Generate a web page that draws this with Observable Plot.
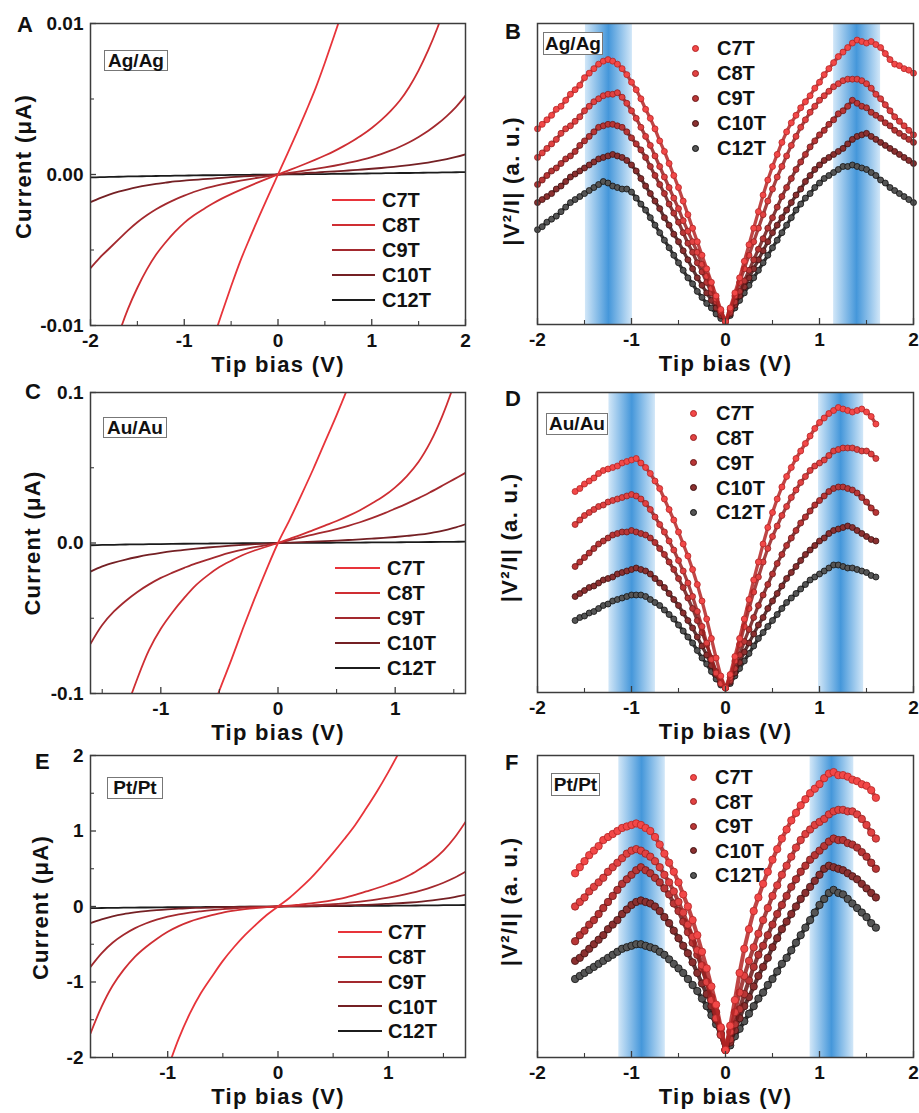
<!DOCTYPE html>
<html><head><meta charset="utf-8">
<script src="https://cdn.jsdelivr.net/npm/d3@7"></script>
<script src="https://cdn.jsdelivr.net/npm/@observablehq/plot@0.6"></script>
<style>
body{margin:0;background:#fff}
#root{position:relative;width:919px;height:1113px;overflow:hidden;font-family:"Liberation Sans",Arial,Helvetica,sans-serif;font-weight:bold;color:#111;background:#fff}
.panel{position:absolute}
.abs{position:absolute;white-space:nowrap;line-height:1}
.box{position:absolute;border:1.3px solid #777;box-sizing:border-box;text-align:center;font-size:19px;background:#fff}
</style></head>
<body>
<svg width="0" height="0" style="position:absolute"><defs>
<linearGradient id="band" x1="0" x2="1" y1="0" y2="0">
<stop offset="0" stop-color="#d2e7f8"/><stop offset="0.5" stop-color="#4597da"/><stop offset="1" stop-color="#d2e7f8"/>
</linearGradient></defs></svg>
<div id="root"></div>
<script>
// ---------- categories ----------
const series = ["C7T","C8T","C9T","C10T","C12T"];
const lineColors = ["#e8343a","#cf2e33","#a3292e","#742024","#1c1c1c"];
const dotFill = ["#f24848","#e04242","#b83636","#8a3030","#555555"];
const dotStroke = ["#b42424","#962020","#6c1818","#401010","#111111"];

// ---------- tick labels ----------
const xMajor4 = [-2,-1,0,1,2], xLabels4 = ["-2","-1","0","1","2"];
const xMajor3 = [-1,0,1], xLabels3 = ["-1","0","1"];
const xMinor = [-1.5,-0.5,0.5,1.5];
const yTicksA = [-0.01,0,0.01], yLabelsA = ["-0.01","0.00","0.01"], yMinorA = [-0.005,0.005];
const yTicksC = [-0.1,0,0.1], yLabelsC = ["-0.1","0.0","0.1"], yMinorC = [-0.05,0.05];
const yTicksE = [-2,-1,0,1,2], yLabelsE = ["-2","-1","0","1","2"], yMinorE = [-1.5,-0.5,0.5,1.5];

// ---------- bias grids ----------
const biasA = [-2,-1.9,-1.8,-1.7,-1.6,-1.5,-1.4,-1.3,-1.2,-1.1,-1,-0.9,-0.8,-0.7,-0.6,-0.5,-0.4,-0.3,-0.2,-0.1,0,0.1,0.2,0.3,0.4,0.5,0.6,0.7,0.8,0.9,1,1.1,1.2,1.3,1.4,1.5,1.6,1.7,1.8,1.9,2];
const biasC = [-1.6,-1.5,-1.4,-1.3,-1.2,-1.1,-1,-0.9,-0.8,-0.7,-0.6,-0.5,-0.4,-0.3,-0.2,-0.1,0,0.1,0.2,0.3,0.4,0.5,0.6,0.7,0.8,0.9,1,1.1,1.2,1.3,1.4,1.5,1.6];
const biasE = [-1.7,-1.6,-1.5,-1.4,-1.3,-1.2,-1.1,-1,-0.9,-0.8,-0.7,-0.6,-0.5,-0.4,-0.3,-0.2,-0.1,0,0.1,0.2,0.3,0.4,0.5,0.6,0.7,0.8,0.9,1,1.1,1.2,1.3,1.4,1.5,1.6,1.7];
const biasB = [-2,-1.95,-1.9,-1.85,-1.8,-1.75,-1.7,-1.65,-1.6,-1.55,-1.5,-1.45,-1.4,-1.35,-1.3,-1.25,-1.2,-1.15,-1.1,-1.05,-1,-0.95,-0.9,-0.85,-0.8,-0.75,-0.7,-0.65,-0.6,-0.55,-0.5,-0.45,-0.4,-0.35,-0.3,-0.25,-0.2,-0.15,-0.1,-0.05,0,0.05,0.1,0.15,0.2,0.25,0.3,0.35,0.4,0.45,0.5,0.55,0.6,0.65,0.7,0.75,0.8,0.85,0.9,0.95,1,1.05,1.1,1.15,1.2,1.25,1.3,1.35,1.4,1.45,1.5,1.55,1.6,1.65,1.7,1.75,1.8,1.85,1.9,1.95,2];
const biasDF = [-1.6,-1.55,-1.5,-1.45,-1.4,-1.35,-1.3,-1.25,-1.2,-1.15,-1.1,-1.05,-1,-0.95,-0.9,-0.85,-0.8,-0.75,-0.7,-0.65,-0.6,-0.55,-0.5,-0.45,-0.4,-0.35,-0.3,-0.25,-0.2,-0.15,-0.1,-0.05,0,0.05,0.1,0.15,0.2,0.25,0.3,0.35,0.4,0.45,0.5,0.55,0.6,0.65,0.7,0.75,0.8,0.85,0.9,0.95,1,1.05,1.1,1.15,1.2,1.25,1.3,1.35,1.4,1.45,1.5,1.55,1.6];

// ---------- A: Ag/Ag current (uA) ----------
const ivAg7 = [null,null,null,null,null,null,null,null,null,null,null,null,-0.0132,-0.0111,-0.0092,-0.0074,-0.0057,-0.0042,-0.00275,-0.00136,0,0.00136,0.00275,0.0042,0.0057,0.0074,0.0092,0.0111,0.0132,null,null,null,null,null,null,null,null,null,null,null,null];
const ivAg8 = [-0.0178,-0.015,-0.0126,-0.0106,-0.0089,-0.0075,-0.0063,-0.0053,-0.0045,-0.0038,-0.0032,-0.00272,-0.00232,-0.00194,-0.0016,-0.0013,-0.00102,-0.00075,-0.00049,-0.00024,0,0.00024,0.00048,0.00073,0.00099,0.00126,0.00155,0.00188,0.00224,0.00263,0.00308,0.0036,0.0042,0.0049,0.0058,0.0069,0.0082,0.0097,0.0115,0.0136,0.016];
const ivAg9 = [-0.0062,-0.0055,-0.0049,-0.0043,-0.0037,-0.00316,-0.0027,-0.0023,-0.00196,-0.00166,-0.0014,-0.00116,-0.00096,-0.0008,-0.00066,-0.00053,-0.00041,-0.0003,-0.0002,-0.0001,0,0.00009,0.00018,0.00027,0.00037,0.00047,0.00058,0.0007,0.00083,0.00098,0.00115,0.00135,0.00158,0.00184,0.00214,0.00249,0.00288,0.00334,0.00387,0.00448,0.00522];
const ivAg10 = [-0.00183,-0.00156,-0.00133,-0.00114,-0.00098,-0.00084,-0.00072,-0.00062,-0.00054,-0.00046,-0.0004,-0.00036,-0.00031,-0.00027,-0.00022,-0.00018,-0.00014,-0.0001,-0.00007,-0.00003,0,0.00003,0.00006,0.0001,0.00013,0.00017,0.0002,0.00024,0.00029,0.00033,0.00038,0.00043,0.00049,0.00055,0.00062,0.0007,0.00079,0.0009,0.00102,0.00116,0.00133];
const ivAg12 = [-0.00019,-0.00018,-0.00016,-0.00015,-0.00013,-0.00012,-0.00011,-0.0001,-0.00009,-0.00008,-0.00007,-0.00006,-0.00005,-0.00005,-0.00004,-0.00003,-0.00003,-0.00002,-0.00001,-0.00001,0,0.00001,0.00001,0.00002,0.00003,0.00003,0.00004,0.00005,0.00005,0.00006,0.00007,0.00008,0.00009,0.0001,0.0001,0.00011,0.00012,0.00013,0.00014,0.00015,0.00016];

// ---------- C: Au/Au current (uA) ----------
const ivAu7 = [null,null,null,null,null,null,null,null,null,-0.143,-0.12,-0.098,-0.078,-0.057,-0.037,-0.018,0,0.0155,0.032,0.049,0.067,0.085,0.104,0.124,0.146,null,null,null,null,null,null,null,null];
const ivAu8 = [-0.205,-0.17,-0.14,-0.112,-0.09,-0.071,-0.057,-0.046,-0.0365,-0.028,-0.0215,-0.016,-0.0118,-0.008,-0.005,-0.0025,0,0.0028,0.0056,0.0086,0.0116,0.0146,0.018,0.0218,0.0262,0.031,0.037,0.0445,0.054,0.067,0.084,0.105,0.13];
const ivAu9 = [-0.067,-0.0545,-0.0455,-0.0385,-0.0325,-0.0275,-0.0232,-0.0197,-0.0165,-0.0135,-0.011,-0.0085,-0.0063,-0.0044,-0.0028,-0.0014,0,0.0019,0.0038,0.0056,0.0074,0.0093,0.0114,0.0138,0.0165,0.0195,0.0228,0.0262,0.0298,0.0338,0.038,0.0423,0.0466];
const ivAu10 = [-0.019,-0.0155,-0.013,-0.011,-0.0093,-0.0078,-0.0065,-0.0054,-0.0045,-0.0037,-0.003,-0.0024,-0.0018,-0.0013,-0.0008,-0.0004,0,0.0003,0.0006,0.0009,0.0012,0.0016,0.002,0.0024,0.0029,0.0034,0.004,0.0047,0.0055,0.0066,0.008,0.01,0.0125];
const ivAu12 = [-0.0015,-0.0013,-0.0012,-0.001,-0.0009,-0.0008,-0.0007,-0.0006,-0.0005,-0.0004,-0.00035,-0.0003,-0.00022,-0.00016,-0.0001,-0.00005,0,0.00004,0.00008,0.00012,0.00016,0.0002,0.00025,0.0003,0.00035,0.0004,0.00046,0.00052,0.00058,0.00065,0.00072,0.0008,0.0009];

// ---------- E: Pt/Pt current (uA) ----------
const ivPt7 = [null,null,null,null,null,null,-2.6,-2.15,-1.75,-1.42,-1.15,-0.93,-0.72,-0.54,-0.38,-0.24,-0.11,0,0.11,0.24,0.38,0.54,0.71,0.89,1.08,1.3,1.53,1.78,2.05,2.35,null,null,null,null,null];
const ivPt8 = [-1.68,-1.33,-1.05,-0.84,-0.67,-0.54,-0.43,-0.335,-0.26,-0.2,-0.155,-0.115,-0.08,-0.055,-0.035,-0.02,-0.008,0,0.01,0.025,0.04,0.06,0.085,0.115,0.155,0.2,0.245,0.295,0.35,0.42,0.51,0.61,0.74,0.91,1.12];
const ivPt9 = [-0.8,-0.62,-0.48,-0.375,-0.29,-0.225,-0.175,-0.135,-0.105,-0.082,-0.064,-0.048,-0.035,-0.025,-0.016,-0.009,-0.004,0,0.004,0.009,0.015,0.022,0.03,0.042,0.057,0.075,0.095,0.118,0.145,0.177,0.215,0.26,0.315,0.38,0.46];
const ivPt10 = [-0.22,-0.17,-0.13,-0.1,-0.078,-0.06,-0.047,-0.037,-0.029,-0.022,-0.017,-0.013,-0.009,-0.006,-0.004,-0.0025,-0.001,0,0.001,0.0025,0.004,0.006,0.009,0.013,0.017,0.022,0.028,0.035,0.043,0.053,0.065,0.08,0.1,0.125,0.155];
const ivPt12 = [-0.022,-0.02,-0.018,-0.016,-0.014,-0.013,-0.011,-0.01,-0.009,-0.008,-0.007,-0.006,-0.005,-0.004,-0.003,-0.002,-0.001,0,0.001,0.002,0.003,0.004,0.005,0.006,0.007,0.008,0.009,0.01,0.011,0.012,0.014,0.015,0.017,0.018,0.02];

// ---------- B: Ag/Ag |V^2/I| (a.u.) ----------
const dvAg7 = [65.0,66.5,68.0,69.5,71.5,72.5,74.5,76.5,78.0,79.5,82.0,83.5,85.0,86.5,87.5,88.0,87.5,86.5,85.0,83.0,80.5,78.0,75.0,71.5,68.5,65.0,61.0,57.5,53.5,49.5,45.5,41.0,36.5,32.0,27.5,23.0,18.5,14.0,9.5,5.0,1.0,5.5,10.5,15.5,21.0,26.5,32.0,37.5,43.0,48.0,52.5,56.5,60.5,64.0,67.0,69.5,72.0,74.0,76.0,78.5,80.5,83.0,85.0,87.0,89.0,90.5,92.0,93.5,94.5,94.0,93.5,94.0,93.0,92.0,90.0,88.0,86.5,86.0,85.0,84.5,83.5];
const dvAg8 = [55.5,57.0,58.5,60.0,61.5,63.5,65.0,66.0,67.5,69.0,71.0,72.5,74.0,75.0,76.0,76.5,76.5,77.0,75.5,73.5,71.0,68.5,65.5,62.5,59.5,56.0,52.5,49.0,45.5,42.0,38.5,34.5,31.0,27.5,24.0,20.0,16.0,12.0,8.5,4.5,1.0,5.0,9.5,14.0,18.5,23.0,27.5,32.0,36.5,41.0,45.0,49.0,52.5,56.0,59.5,62.5,65.5,68.0,70.5,72.5,74.5,76.0,77.5,79.0,80.0,81.0,81.5,81.5,81.5,81.0,80.0,78.5,76.5,75.0,73.0,71.0,69.0,67.5,66.0,64.5,63.0];
const dvAg9 = [46.5,48.0,49.5,51.0,52.0,53.5,55.0,56.0,57.5,59.5,61.0,62.5,64.0,65.5,66.0,66.5,66.5,66.0,65.5,64.0,62.0,60.0,58.0,55.5,52.5,49.5,46.5,43.5,40.0,37.0,34.0,30.5,27.0,24.0,20.5,17.5,14.0,10.5,7.5,4.0,1.0,4.0,7.5,11.0,14.5,18.0,21.5,25.0,28.5,32.0,35.5,39.0,42.5,45.5,48.5,51.5,54.0,56.5,59.0,61.0,63.0,64.5,66.5,68.0,70.0,71.0,72.5,74.5,73.5,72.5,72.0,70.5,69.5,68.5,67.0,66.0,64.5,63.5,62.5,61.5,60.5];
const dvAg10 = [40.5,41.5,42.5,43.5,45.0,46.0,47.5,49.0,50.0,51.0,52.0,53.0,54.0,55.0,55.5,56.0,56.5,56.0,55.5,54.5,53.0,51.0,48.5,46.0,43.5,41.0,38.5,35.5,33.0,30.0,27.5,24.5,21.5,18.5,15.5,13.0,10.5,8.0,5.5,3.0,1.0,3.5,6.5,9.5,12.5,15.5,18.5,21.5,24.5,27.5,30.5,33.0,35.5,38.0,40.5,43.0,45.0,47.5,49.5,51.5,53.0,54.5,55.5,56.5,57.5,58.5,60.0,61.5,62.5,63.0,63.5,62.5,61.5,60.5,59.5,58.5,57.5,56.5,55.5,54.5,53.5];
const dvAg12 = [31.5,32.5,34.0,35.0,36.0,37.5,39.0,40.5,41.5,42.5,43.5,44.5,45.5,46.5,47.5,47.0,46.0,45.5,45.0,45.0,44.0,42.0,40.0,38.0,35.5,33.0,30.5,28.0,25.5,23.0,20.5,18.0,15.5,13.5,11.0,9.0,7.0,5.5,3.5,2.0,1.0,3.0,5.5,8.0,10.5,13.0,15.5,18.0,20.5,23.0,25.5,28.0,30.5,33.0,35.5,38.0,40.0,42.0,43.5,45.5,47.0,48.5,49.5,50.5,51.5,52.5,52.5,53.0,52.5,52.0,51.5,50.5,49.5,48.0,47.0,45.5,44.5,43.5,42.5,41.5,40.5];

// ---------- D: Au/Au |V^2/I| (a.u.) ----------
const dvAu7 = [67.0,68.0,69.5,70.5,71.5,73.0,74.0,74.5,75.0,75.5,76.5,77.0,77.5,78.0,76.5,75.0,73.0,70.5,68.0,64.5,61.0,57.5,53.5,49.5,45.5,41.0,36.0,30.5,24.5,18.0,11.5,5.5,1.5,6.0,12.0,18.0,24.5,31.0,37.5,43.5,49.5,55.0,60.0,64.5,68.5,72.0,75.0,78.0,80.5,83.0,85.5,88.0,90.0,91.5,93.0,94.0,95.0,94.5,94.0,93.5,94.0,94.5,93.5,92.0,89.5];
const dvAu8 = [56.0,57.5,59.0,60.0,61.0,62.0,62.5,63.5,64.0,64.5,65.0,65.5,66.0,65.5,64.5,63.0,61.0,58.5,56.0,53.5,50.5,47.5,44.0,40.5,36.5,32.0,27.0,22.0,16.5,11.0,6.5,3.0,1.5,5.0,10.5,16.0,22.0,28.0,33.5,38.5,43.5,48.0,52.0,55.5,59.0,62.0,65.0,67.5,70.0,72.0,74.0,75.5,76.5,77.5,79.0,80.5,81.0,81.5,81.5,81.5,81.0,80.5,80.5,79.5,78.0];
const dvAu9 = [42.0,43.5,45.0,46.5,48.0,49.5,50.5,51.5,52.5,53.0,53.5,53.5,54.0,53.5,53.0,52.5,51.5,50.0,48.0,46.0,43.5,41.0,38.0,35.0,31.5,28.0,24.0,20.0,16.0,11.5,7.0,3.5,1.5,4.0,8.0,12.5,17.0,21.0,25.0,29.0,32.5,36.0,39.5,43.0,46.0,49.0,51.5,54.0,56.5,58.5,60.5,62.5,64.0,65.5,67.0,68.0,68.5,68.5,68.0,67.5,66.5,65.0,63.5,61.5,60.0];
const dvAu10 = [32.0,33.0,34.0,35.0,35.5,36.5,37.5,38.0,38.5,39.5,40.0,40.5,41.0,41.5,41.0,40.5,39.5,38.0,36.5,35.0,33.0,31.0,29.0,26.5,24.0,21.5,18.5,15.5,12.5,9.0,6.0,3.0,1.5,3.5,6.5,10.0,13.5,16.5,19.5,22.5,25.0,28.0,30.5,33.0,35.5,38.0,40.0,42.0,44.0,46.0,47.5,49.0,50.5,51.5,53.0,54.0,54.5,55.0,55.5,55.0,54.0,53.0,52.0,51.0,50.5];
const dvAu12 = [24.0,25.0,25.5,26.5,27.0,28.0,29.0,29.5,30.5,31.0,31.5,32.0,32.5,32.5,32.5,32.0,31.0,30.0,29.0,27.5,26.0,24.5,22.5,20.5,18.5,16.5,14.0,11.5,9.5,7.0,4.5,2.5,1.5,3.0,5.5,8.0,10.5,13.0,15.5,18.0,20.0,22.0,24.0,26.0,28.0,30.0,31.5,33.0,34.5,36.0,37.5,38.5,39.5,40.5,41.5,42.5,42.5,42.0,41.5,41.5,41.0,40.5,40.0,39.0,38.5];

// ---------- F: Pt/Pt |V^2/I| (a.u.) ----------
const dvPt7 = [61.0,63.0,65.0,67.0,68.5,70.0,72.0,73.0,74.0,75.0,76.0,76.5,77.0,77.5,77.0,76.0,75.0,73.0,70.5,67.5,64.5,61.5,58.0,54.0,50.0,45.5,40.5,35.0,29.5,23.5,17.5,10.0,2.5,10.5,19.0,28.0,36.0,42.5,48.5,53.0,57.5,61.5,65.5,69.0,72.5,75.5,78.5,81.0,83.5,85.5,87.5,89.0,90.5,92.5,94.0,94.5,93.5,93.5,93.0,92.0,91.5,90.5,90.0,88.5,86.0];
const dvPt8 = [50.0,51.5,53.0,55.0,56.5,58.0,59.5,61.5,63.0,64.5,66.0,67.5,68.5,69.0,68.5,67.5,66.5,65.0,63.0,60.5,58.0,55.0,51.5,48.0,44.0,40.0,35.5,30.5,25.0,19.0,13.0,7.5,2.5,8.5,15.0,21.5,27.0,32.0,36.5,41.0,45.5,49.5,53.5,57.0,60.5,63.5,66.5,69.5,72.0,74.0,75.5,77.0,78.0,79.0,80.5,81.5,82.0,82.0,81.5,81.5,80.5,79.0,77.0,74.5,72.5];
const dvPt9 = [38.5,40.5,42.0,44.0,45.5,47.5,49.5,51.5,53.5,55.5,57.5,59.0,60.5,62.0,63.0,62.0,61.0,59.5,58.0,56.0,54.0,51.0,48.5,45.0,41.5,38.0,34.0,29.5,25.0,20.0,15.0,9.5,2.5,6.0,11.0,16.0,21.0,25.5,30.0,34.0,37.0,40.5,44.0,47.5,50.5,53.5,56.5,59.0,61.5,63.5,65.5,67.0,68.5,70.0,71.5,72.5,72.0,72.0,71.0,70.5,69.5,68.0,66.5,64.5,62.5];
const dvPt10 = [32.0,33.0,34.5,36.0,37.5,39.0,40.5,42.5,44.0,45.5,47.5,49.0,50.5,51.5,52.0,51.5,51.0,50.0,48.5,46.5,44.5,42.0,39.5,37.0,34.5,31.5,28.0,24.5,21.0,17.0,12.5,8.0,2.5,5.0,9.0,13.0,17.0,20.0,23.5,27.0,30.0,33.0,36.5,39.5,42.5,45.0,47.5,50.0,52.5,54.5,56.5,58.5,60.5,62.5,63.5,63.0,62.5,62.0,61.0,60.0,59.0,57.5,56.0,54.5,53.0];
const dvPt12 = [26.0,27.0,28.0,29.0,30.0,31.0,32.0,33.0,34.0,35.0,36.0,36.5,37.0,37.5,37.5,37.0,36.5,36.0,35.0,34.0,32.5,31.0,29.5,28.0,26.0,24.0,22.0,19.5,17.0,14.0,11.0,7.5,2.5,4.0,7.0,9.5,12.0,14.5,17.0,19.5,21.5,24.0,26.0,28.5,31.0,33.0,35.5,38.0,40.5,43.0,45.5,48.0,50.5,52.5,54.5,55.5,54.5,54.0,52.5,51.0,49.5,48.0,46.5,44.5,43.0];

// ---------- shaded bias bands (V) ----------
const bandsAg = [{x1:-1.49,x2:-0.99},{x1:1.15,x2:1.65}];
const bandsAu = [{x1:-1.24,x2:-0.745},{x1:0.99,x2:1.47}];
const bandsPt = [{x1:-1.135,x2:-0.64},{x1:0.9,x2:1.365}];

// ================= rendering =================
const root = document.getElementById("root");
const FONT = "'Liberation Sans', Arial, Helvetica, sans-serif";
const AX = "#3c3c3c";
const ivTitle = "Current (\u03bcA)";
const dvTitle = "|V\u00b2/I| (a. u.)";
const xTitle = "Tip bias (V)";
const titles = [ivTitle, dvTitle, xTitle];

function rowsOf(bias, ys) {
  return bias.map((v, k) => ({v, y: ys[k]})).filter(d => d.y != null);
}

function makePanel(cfg) {
  const fh = cfg.height - cfg.mt - cfg.mb;
  const fw = cfg.width - cfg.ml - cfg.mr;
  const marks = [];
  if (cfg.bands) marks.push(Plot.rect(cfg.bands, {x1: "x1", x2: "x2", fill: "url(#band)"}));
  const order = [4,3,2,1,0];
  for (const s of order) {
    const rows = rowsOf(cfg.bias, cfg.ys[s]);
    if (cfg.kind === "line") {
      marks.push(Plot.line(rows, {x: "v", y: "y", stroke: lineColors[s], strokeWidth: 1.8, curve: "catmull-rom", clip: true}));
    } else {
      marks.push(Plot.line(rows, {x: "v", y: "y", stroke: dotStroke[s], strokeWidth: cfg.r * 1.1, strokeOpacity: 0.85}));
      marks.push(Plot.dot(rows, {x: "v", y: "y", r: cfg.r, fill: dotFill[s], stroke: dotStroke[s], strokeWidth: 0.8}));
    }
  }
  marks.push(Plot.frame({stroke: AX, strokeWidth: 1.5}));
  marks.push(Plot.ruleX(cfg.xMajor, {x: d => d, insetTop: fh - 6, stroke: AX, strokeWidth: 1.3}));
  marks.push(Plot.ruleX(xMinor, {x: d => d, insetTop: fh - 4, stroke: AX, strokeWidth: 1.1}));
  marks.push(Plot.axisX(cfg.xMajor, {anchor: "bottom", tickSize: 0, tickPadding: 8, label: null,
    tickFormat: d => cfg.xLabels[cfg.xMajor.indexOf(d)]}));
  if (cfg.yTicks) {
    marks.push(Plot.ruleY(cfg.yTicks, {y: d => d, insetRight: fw - 6, stroke: AX, strokeWidth: 1.3}));
    marks.push(Plot.ruleY(cfg.yMinor, {y: d => d, insetRight: fw - 4, stroke: AX, strokeWidth: 1.1}));
    marks.push(Plot.axisY(cfg.yTicks, {anchor: "left", tickSize: 0, tickPadding: 7, label: null,
      tickFormat: d => cfg.yLabels[cfg.yTicks.indexOf(d)]}));
  }
  marks.push(Plot.text([cfg.xTitle], {text: d => d, frameAnchor: "bottom", textAnchor: "middle", dy: 46, lineAnchor: "bottom", fontSize: 22}));
  marks.push(Plot.text([cfg.yTitle], {text: d => d, frameAnchor: "left", textAnchor: "middle", lineAnchor: "middle", rotate: -90, dx: cfg.ytdx, dy: cfg.ytdy, fontSize: 22}));
  const chart = Plot.plot({
    width: cfg.width, height: cfg.height,
    marginTop: cfg.mt, marginRight: cfg.mr, marginBottom: cfg.mb, marginLeft: cfg.ml,
    x: {domain: cfg.xDomain, label: null},
    y: {domain: cfg.yDomain, label: null, axis: cfg.yTicks ? undefined : null},
    style: {fontFamily: FONT, fontSize: "19px", fontWeight: "bold", color: "#111", background: "transparent", overflow: "visible"},
    marks
  });
  chart.querySelectorAll("text").forEach(t => {
    if (titles.includes(t.textContent)) t.style.letterSpacing = "1.3px";
  });
  const holder = document.createElement("div");
  holder.className = "panel";
  holder.style.left = cfg.left + "px";
  holder.style.top = cfg.top + "px";
  holder.appendChild(chart);
  root.appendChild(holder);
}

makePanel({left: 0, top: 0, width: 470, height: 380, mt: 23, mr: 5, mb: 55, ml: 90, kind: "line",
  bias: biasA, ys: [ivAg7, ivAg8, ivAg9, ivAg10, ivAg12], xDomain: [-2, 2], yDomain: [-0.01, 0.01],
  xMajor: xMajor4, xLabels: xLabels4, yTicks: yTicksA, yLabels: yLabelsA, yMinor: yMinorA,
  xTitle, yTitle: ivTitle, ytdx: -67, ytdy: -8});
makePanel({left: 470, top: 0, width: 449, height: 380, mt: 23, mr: 6, mb: 56, ml: 67, kind: "dot", r: 3.0,
  bias: biasB, ys: [dvAg7, dvAg8, dvAg9, dvAg10, dvAg12], xDomain: [-2, 2], yDomain: [0, 100], bands: bandsAg,
  xMajor: xMajor4, xLabels: xLabels4, xTitle, yTitle: dvTitle, ytdx: -26, ytdy: 7});
makePanel({left: 0, top: 370, width: 470, height: 380, mt: 22, mr: 5, mb: 57, ml: 90, kind: "line",
  bias: biasC, ys: [ivAu7, ivAu8, ivAu9, ivAu10, ivAu12], xDomain: [-1.6, 1.6], yDomain: [-0.1, 0.1],
  xMajor: xMajor3, xLabels: xLabels3, yTicks: yTicksC, yLabels: yLabelsC, yMinor: yMinorC,
  xTitle, yTitle: ivTitle, ytdx: -58, ytdy: 0});
makePanel({left: 470, top: 370, width: 449, height: 380, mt: 22, mr: 6, mb: 58, ml: 67, kind: "dot", r: 3.0,
  bias: biasDF, ys: [dvAu7, dvAu8, dvAu9, dvAu10, dvAu12], xDomain: [-2, 2], yDomain: [0, 100], bands: bandsAu,
  xMajor: xMajor4, xLabels: xLabels4, xTitle, yTitle: dvTitle, ytdx: -28, ytdy: -5});
makePanel({left: 0, top: 740, width: 470, height: 373, mt: 15, mr: 5, mb: 56, ml: 90, kind: "line",
  bias: biasE, ys: [ivPt7, ivPt8, ivPt9, ivPt10, ivPt12], xDomain: [-1.7, 1.7], yDomain: [-2, 2],
  xMajor: xMajor3, xLabels: xLabels3, yTicks: yTicksE, yLabels: yLabelsE, yMinor: yMinorE,
  xTitle, yTitle: ivTitle, ytdx: -50, ytdy: 1});
makePanel({left: 470, top: 740, width: 449, height: 373, mt: 15, mr: 6, mb: 56, ml: 67, kind: "dot", r: 3.7,
  bias: biasDF, ys: [dvPt7, dvPt8, dvPt9, dvPt10, dvPt12], xDomain: [-2, 2], yDomain: [0, 100], bands: bandsPt,
  xMajor: xMajor4, xLabels: xLabels4, xTitle, yTitle: dvTitle, ytdx: -28, ytdy: -5});

// ---------- HTML text: panel letters, material boxes, legends ----------
function textAt(str, left, baseline, fs) {
  const d = document.createElement("div");
  d.className = "abs";
  d.textContent = str;
  d.style.fontSize = fs + "px";
  d.style.left = left + "px";
  d.style.top = (baseline - 0.8465 * fs) + "px";
  root.appendChild(d);
  return d;
}
const panelLetters = [["A",17,33],["B",505,40],["C",25,400],["D",505,407],["E",35,770],["F",505,771]];
panelLetters.forEach(([t, x, b]) => textAt(t, x, b, 22));

const boxes = [["Ag/Ag",104,50,64,21],["Ag/Ag",543,32,60,23],["Au/Au",103,417,64,21],["Au/Au",546,413,62,22],["Pt/Pt",107,777,56,22],["Pt/Pt",551,773,49,23]];
boxes.forEach(([t, x, y, w, h]) => {
  const d = document.createElement("div");
  d.className = "box";
  d.textContent = t;
  Object.assign(d.style, {left: x + "px", top: y + "px", width: w + "px", height: h + "px", lineHeight: (h - 2) + "px"});
  root.appendChild(d);
});

function lineLegend(x0, x1, xt, y0, step) {
  series.forEach((s, i) => {
    const y = y0 + i * step;
    const ln = document.createElement("div");
    Object.assign(ln.style, {position: "absolute", left: x0 + "px", top: (y - 1) + "px", width: (x1 - x0) + "px", height: "2px", background: lineColors[i]});
    root.appendChild(ln);
    textAt(s, xt, y + 7.2, 20);
  });
}
function dotLegend(xc, xt, y0, step) {
  series.forEach((s, i) => {
    const y = y0 + i * step;
    const dot = document.createElement("div");
    Object.assign(dot.style, {position: "absolute", left: (xc - 3.5) + "px", top: (y - 3.5) + "px", width: "7px", height: "7px",
      borderRadius: "50%", background: dotFill[i], boxSizing: "border-box", border: "1px solid " + dotStroke[i]});
    root.appendChild(dot);
    textAt(s, xt, y + 7.2, 20);
  });
}
lineLegend(332, 375, 382, 200, 25);
lineLegend(335, 380, 387, 568, 25);
lineLegend(338, 382, 388, 932, 24.75);
dotLegend(695, 717, 48, 25);
dotLegend(693, 716, 413, 24.75);
dotLegend(693, 715, 777, 24.5);
</script>
</body></html>
